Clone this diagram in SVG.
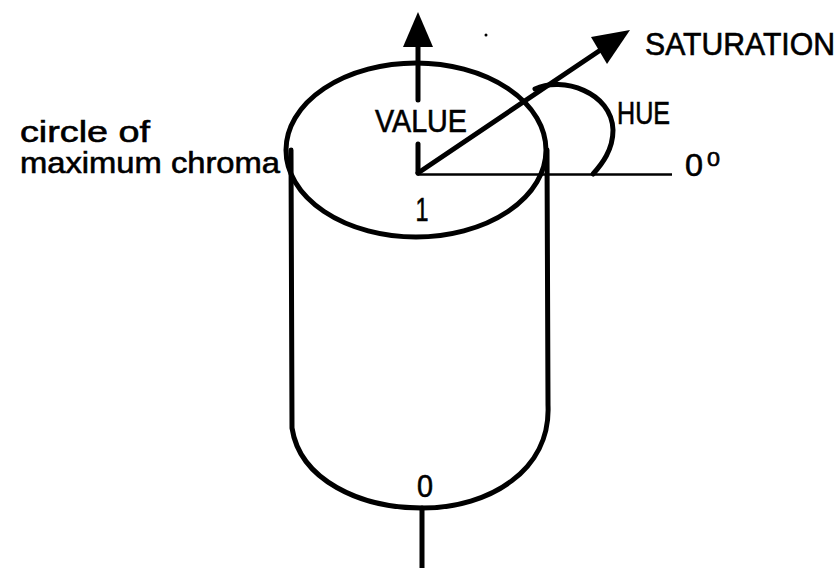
<svg xmlns="http://www.w3.org/2000/svg" width="840" height="568" viewBox="0 0 840 568">
<style>
.s{fill:none;stroke:#000;stroke-width:5;stroke-linecap:round;stroke-linejoin:round}
.t{font-family:"Liberation Sans",Arial,sans-serif;fill:#000;stroke:#000;stroke-width:0.6}
</style>
<rect width="840" height="568" fill="#fff"/>
<g id="cylinder">
<ellipse class="s" cx="416" cy="150" rx="130" ry="87"/>
<path class="s" d="M 291 150 L 292 428 C 300 480 360 508 422 508 C 490 508 551 470 548 405 L 547 150"/>
<text class="t" x="422" y="221" font-size="34" text-anchor="middle" textLength="13" lengthAdjust="spacingAndGlyphs">1</text>
<text class="t" x="425" y="497" font-size="32" text-anchor="middle" textLength="16" lengthAdjust="spacingAndGlyphs">0</text>
</g>
<g id="connectors">
<line class="s" x1="418" y1="46" x2="418" y2="100"/>
<line class="s" x1="418" y1="144" x2="418" y2="173"/>
<polygon points="418,12 403,47 433,47" fill="#000"/>
<line class="s" x1="418" y1="173" x2="602" y2="49"/>
<polygon points="630,30 591,37 607,64" fill="#000"/>
<line x1="418" y1="174.5" x2="672" y2="174.5" stroke="#000" stroke-width="2.5"/>
<path class="s" stroke-width="4" d="M 535 89 C 562 76 612 92 613 130 C 613 150 602 164 593 174"/>
<line class="s" stroke-width="4.5" x1="422" y1="508" x2="422" y2="568"/>
<circle cx="486" cy="35" r="1.5" fill="#000"/>
</g>
<g id="labels">
<text class="t" x="375" y="132" font-size="31" textLength="92" lengthAdjust="spacingAndGlyphs">VALUE</text>
<text class="t" x="645" y="55" font-size="31" textLength="190" lengthAdjust="spacingAndGlyphs">SATURATION</text>
<text class="t" x="617" y="124" font-size="31" textLength="53" lengthAdjust="spacingAndGlyphs">HUE</text>
<text class="t" x="685" y="176" font-size="32" textLength="18" lengthAdjust="spacingAndGlyphs">0</text>
<text class="t" x="707" y="166" font-size="21" textLength="13" lengthAdjust="spacingAndGlyphs">0</text>
<text class="t" x="20" y="142" font-size="30" textLength="130" lengthAdjust="spacingAndGlyphs">circle of</text>
<text class="t" x="20" y="173" font-size="30" textLength="260" lengthAdjust="spacingAndGlyphs">maximum chroma</text>
</g>
</svg>
